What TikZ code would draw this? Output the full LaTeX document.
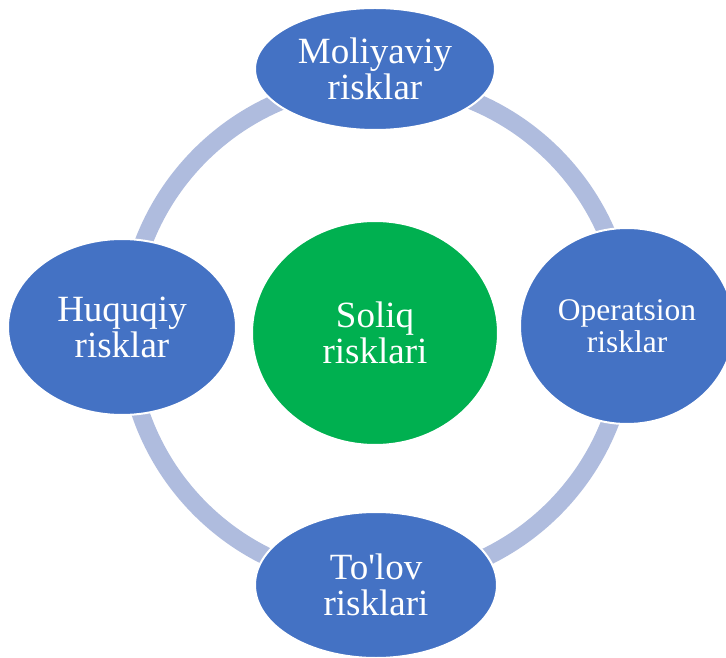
\documentclass[tikz,border=0pt]{standalone}
\usepackage{fontspec}
\setmainfont{Liberation Serif}
\usepackage{tikz}
\usetikzlibrary{positioning}
\usetikzlibrary{shapes.geometric}
\definecolor{riskblue}{RGB}{68,114,196}
\definecolor{riskgreen}{RGB}{0,176,80}
\definecolor{ringblue}{RGB}{175,188,222}
\tikzstyle{risk} = [ellipse,draw=white,line width=2pt,fill=riskblue,text=white,inner sep=0pt,align=center,font=\fontsize{37}{36}\selectfont]
\tikzstyle{core} = [risk,fill=riskgreen]
\tikzstyle{ring} = [ringblue,line width=18pt]

\begin{document}
\begin{tikzpicture}[x=1pt,y=1pt]
							\useasboundingbox (0,0) rectangle (726,657);
							\clip (0,0) rectangle (726,657);
							
							%Nodes
							\node (soliq) [core,minimum width=246pt,minimum height=224pt] at (375,324) {Soliq\\risklari};
							\coordinate (mid) at (377,325);
							
							%Ring
							\draw[ring] (mid) circle (250pt);
							
							\node (moliya) [risk,minimum width=240pt,minimum height=122pt] at (375,588) {Moliyaviy\\risklar};
							\node (operatsion) [risk,minimum width=214pt,minimum height=196pt,font=\fontsize{31.5}{32}\selectfont] at (627,331) {Operatsion\\risklar};
							\node (huquq) [risk,minimum width=228pt,minimum height=176pt] at (122,330) {Huquqiy\\risklar};
							\node (tolov) [risk,minimum width=242pt,minimum height=146pt] at (376,72) {To\textquotesingle lov\\risklari};
							
	\end{tikzpicture}
\end{document}
